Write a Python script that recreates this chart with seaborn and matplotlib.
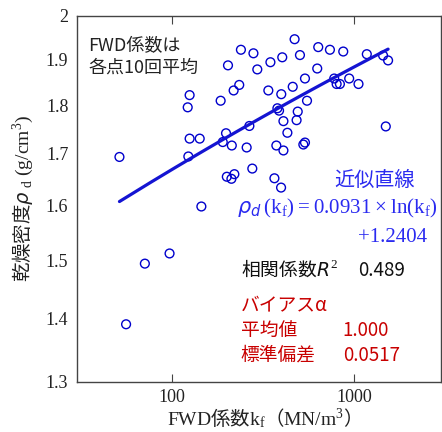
import numpy as np
import pandas as pd
import matplotlib.pyplot as plt
from matplotlib.ticker import FixedLocator, NullLocator
import seaborn as sns

# FWD coefficient k_f (MN/m3) and dry density rho_d (g/cm3)
kf = [51.5, 56, 71, 97, 122, 125, 125, 123, 142, 145,
      185, 190, 198, 203, 200, 212, 213, 218, 220, 234,
      239, 257, 266, 276, 280, 294, 338, 347, 365, 374,
      379, 387, 398, 397, 403, 409, 409, 430, 460, 471,
      483, 490, 504, 526, 537, 537, 551, 627, 635, 736,
      777, 801, 835, 871, 939, 1056, 1173, 1441, 1491, 1535]
rho = [1.694, 1.391, 1.494, 1.512, 1.796, 1.822, 1.731, 1.695, 1.731, 1.598,
       1.810, 1.724, 1.742, 1.887, 1.655, 1.651, 1.717, 1.832, 1.660, 1.844,
       1.922, 1.713, 1.757, 1.671, 1.914, 1.878, 1.832, 1.894, 1.652, 1.717,
       1.794, 1.789, 1.824, 1.634, 1.905, 1.767, 1.707, 1.743, 1.840, 1.946,
       1.769, 1.787, 1.910, 1.719, 1.723, 1.858, 1.810, 1.880, 1.928, 1.922,
       1.858, 1.846, 1.846, 1.918, 1.858, 1.846, 1.912, 1.909, 1.756, 1.898]

# fitted curve rho = a*ln(kf) + b
slope = 0.0931
intercept = 1.2404

x_ticks = [100, 1000]
x_tick_labels = ['100', '1000']
y_ticks = [1.3, 1.4, 1.5, 1.6, 1.7, 1.8, 1.9, 2.0]
y_tick_labels = ['1.3', '1.4', '1.5', '1.6', '1.7', '1.8', '1.9', '2']

sns.set_style('white')
plt.rcParams['font.family'] = ['Liberation Serif', 'Noto Sans CJK JP']
plt.rcParams['mathtext.fontset'] = 'custom'
plt.rcParams['mathtext.rm'] = 'Liberation Serif'
plt.rcParams['mathtext.it'] = 'DejaVu Sans:italic'
plt.rcParams['mathtext.bf'] = 'Liberation Serif:bold'

jp = ['Noto Sans CJK JP', 'DejaVu Sans']
blue = '#2a2af0'
red = '#c80000'

df = pd.DataFrame({'kf': kf, 'rho': rho})
fit_x = np.linspace(min(kf), max(kf), 60)
fit = pd.DataFrame({'kf': fit_x, 'rho': slope * np.log(fit_x) + intercept})

fig = plt.figure(figsize=(4.42, 4.32), dpi=100)
ax = fig.add_axes([0.1735, 0.1164, 0.8245, 0.8466])

sns.lineplot(data=fit, x='kf', y='rho', color='#1414d2', lw=2.3, ax=ax)
sns.scatterplot(data=df, x='kf', y='rho', s=40, marker='o', facecolor='none',
                edgecolor='#0000cc', linewidth=1.0, ax=ax)

ax.set_xscale('log')
ax.set_yscale('log')
ax.set_xlim(30, 3000)
ax.set_ylim(1.3, 2.0)
ax.xaxis.set_major_locator(FixedLocator(x_ticks))
ax.xaxis.set_minor_locator(NullLocator())
ax.set_xticklabels(x_tick_labels)
ax.yaxis.set_major_locator(FixedLocator(y_ticks))
ax.yaxis.set_minor_locator(NullLocator())
ax.set_yticklabels(y_tick_labels)
ax.tick_params(axis='x', direction='in', length=6, width=0.8, top=True,
               bottom=True, color='#444444', labelsize=13, labelcolor='#222222', pad=5)
ax.tick_params(axis='y', length=0, labelsize=13, labelcolor='#222222', pad=6)
for sp in ax.spines.values():
    sp.set_color('#444444')
    sp.set_linewidth(1.0)

ax.set_xlabel('$\\mathrm{FWD}$係数$\\mathrm{k_{f}}$（$\\mathrm{MN/m^{3}}$）',
              fontsize=14, family=['Noto Sans CJK JP', 'Liberation Serif'],
              color='#222222', labelpad=1)
ax.set_ylabel('乾燥密度$\\rho$ $_{\\mathrm{d}}$ $\\mathrm{(g/cm^{3})}$',
              fontsize=14, family=['Noto Sans CJK JP', 'Liberation Serif'],
              color='#222222', labelpad=8)

ax.text(0.032, 0.919, 'FWD係数は', transform=ax.transAxes, family=jp,
        fontsize=13, va='center', color='#222222')
ax.text(0.032, 0.859, '各点10回平均', transform=ax.transAxes, family=jp,
        fontsize=13, va='center', color='#222222')

ax.text(0.817, 0.552, '近似直線', transform=ax.transAxes, family=jp,
        fontsize=14.5, ha='center', va='center', color=blue)
ax.text(0.99, 0.475, '$\\rho_d\\,\\mathrm{(k_f)} = \\mathrm{0.0931} \\times \\mathrm{ln(k_f)}$',
        transform=ax.transAxes, fontsize=15, ha='right', va='center', color=blue)
ax.text(0.962, 0.393, '+1.2404', transform=ax.transAxes, fontsize=15,
        ha='right', va='center', color=blue)

ax.text(0.450, 0.305, '相関係数$R^2$', transform=ax.transAxes, family=jp,
        fontsize=13.5, va='center', color='#111111')
ax.text(0.771, 0.305, '0.489', transform=ax.transAxes, family=jp,
        fontsize=13.5, va='center', color='#111111')

ax.text(0.450, 0.207, 'バイアスα', transform=ax.transAxes, family=jp,
        fontsize=13.5, va='center', color=red)
ax.text(0.450, 0.141, '平均値', transform=ax.transAxes, family=jp,
        fontsize=13.5, va='center', color=red)
ax.text(0.730, 0.141, '1.000', transform=ax.transAxes, family=jp,
        fontsize=13.5, va='center', color=red)
ax.text(0.450, 0.073, '標準偏差', transform=ax.transAxes, family=jp,
        fontsize=13.5, va='center', color=red)
ax.text(0.730, 0.073, '0.0517', transform=ax.transAxes, family=jp,
        fontsize=13.5, va='center', color=red)

fig.savefig('out.png', dpi=100)
